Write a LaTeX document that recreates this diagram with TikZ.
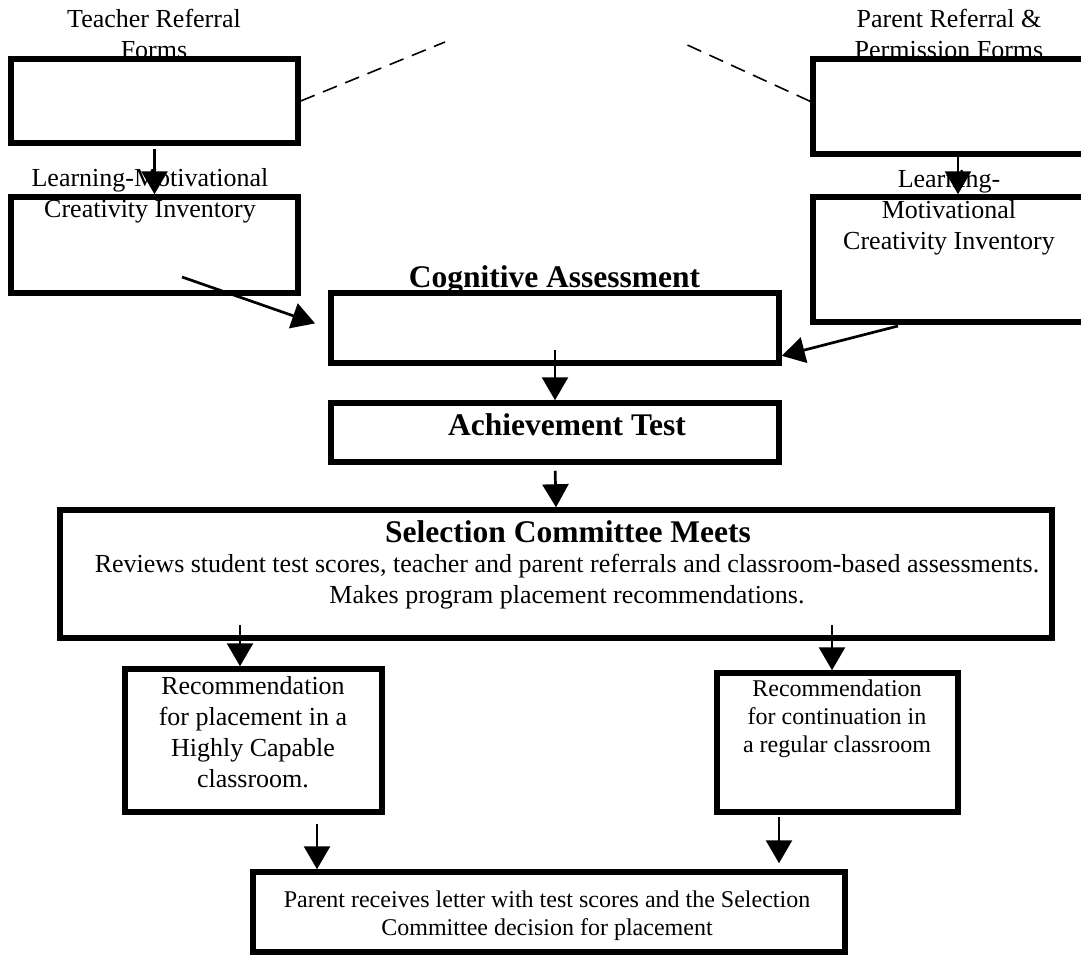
\documentclass[tikz,border=0pt]{standalone}
\usepackage{fontspec}
\setmainfont{Liberation Serif}
\usetikzlibrary{arrows.meta}
\begin{document}
\begin{tikzpicture}[x=1pt,y=-1pt,
        box/.style={draw,line width=5.5pt,inner sep=0pt},
        txt/.style={inner sep=0pt,align=center,font=\fontsize{26}{31}\selectfont},
        sml/.style={inner sep=0pt,align=center,font=\fontsize{24}{28}\selectfont},
        hd/.style={inner sep=0pt,anchor=base,font=\fontsize{31.5}{36}\selectfont\bfseries},
        arr/.style={-{Triangle[length=23pt,width=26pt]},line width=2.7pt},
        dsh/.style={line width=1.6pt,dash pattern=on 15pt off 9pt}]
        \useasboundingbox(0,0)rectangle(1081,955);
        \node[box,minimum width=287pt,minimum height=84pt](1)at(154.5,101){};
        \node[box,minimum width=287pt,minimum height=96pt](2)at(154.5,245){};
        \node[box,minimum width=290pt,minimum height=95pt](3)at(958,106.5){};
        \node[box,minimum width=290pt,minimum height=125pt](4)at(958,259.5){};
        \node[box,minimum width=448pt,minimum height=70pt](5)at(555,328){};
        \node[box,minimum width=448pt,minimum height=59pt](6)at(555,432.5){};
        \node[box,minimum width=992pt,minimum height=128pt](7)at(556,574){};
        \node[box,minimum width=257pt,minimum height=143pt](8)at(253.5,740.5){};
        \node[box,minimum width=241pt,minimum height=139pt](9)at(837.5,742.5){};
        \node[box,minimum width=592pt,minimum height=80pt](10)at(549,912){};
        \node[txt](1t)at(154,34){Teacher Referral\\Forms};
        \node[txt](2t)at(150,196){Learning-Motivational\\Creativity Inventory};
        \node[txt](3t)at(949,34){Parent Referral \&\\Permission Forms};
        \node[txt](4t)at(949,213){Learning-\\Motivational\\Creativity Inventory};
        \node[hd](5t)at(554.5,287){Cognitive Assessment};
        \node[hd](6t)at(567,435){Achievement Test};
        \node[hd](7t)at(568,542){Selection Committee Meets};
        \node[txt](7b)at(567,581.5){Reviews student test scores, teacher and parent referrals and classroom-based assessments.\\Makes program placement recommendations.};
        \node[txt](8t)at(253,732){Recommendation\\for placement in a\\Highly Capable\\classroom.};
        \node[sml](9t)at(837,719){Recommendation\\for continuation in\\a regular classroom};
        \node[sml](10t)at(547,915.4){Parent receives letter with test scores and the Selection\\Committee decision for placement};
        \coordinate(c1)at(182,277);
        \coordinate(c2)at(898,326);
        \coordinate(c3)at(240,625);
        \coordinate(c4)at(832,625);
        \coordinate(c5)at(317,824);
        \coordinate(c6)at(779,817);
        \coordinate(d1)at(445,42);
        \coordinate(d2)at(683,43);
        \draw[arr,shorten <=3.5pt](1.south)--(2.north);
        \draw[arr](3.south)--(4.north);
        \draw[arr,shorten >=14pt](c1)--(5.west);
        \draw[arr](c2)--(5.-7);
        \draw[arr,shorten <=22pt](5.center)--(6.north);
        \draw[arr,shorten <=6pt](6.south)--(7.north);
        \draw[arr](c3)--(c3|-8.north);
        \draw[arr](c4)--(c4|-9.north);
        \draw[arr](c5)--(c5|-10.north);
        \draw[arr,shorten >=6pt](c6)--(c6|-10.north);
        \draw[dsh](1.east)--(d1);
        \draw[dsh](3.178)--(d2);
    \end{tikzpicture}
\end{document}
